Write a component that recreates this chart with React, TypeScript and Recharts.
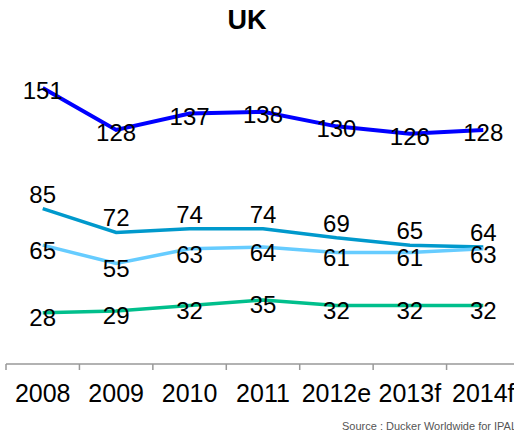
import { LineChart, Line, XAxis, YAxis, LabelList } from 'recharts';

const years = ['2008', '2009', '2010', '2011', '2012e', '2013f', '2014f'];
const seriesA = [151, 128, 137, 138, 130, 126, 128];
const seriesB = [85, 72, 74, 74, 69, 65, 64];
const seriesC = [65, 55, 63, 64, 61, 61, 63];
const seriesD = [28, 29, 32, 35, 32, 32, 32];

const FONT = '"Liberation Sans", Arial, sans-serif';

const data = years.map((year, i) => ({
  year,
  a: seriesA[i],
  b: seriesB[i],
  c: seriesC[i],
  d: seriesD[i],
}));

const BAND = 514 / years.length;

function makeLabel(dy: number) {
  return (props: any) => {
    const { x, y, value } = props;
    return (
      <text x={x} y={y + dy} textAnchor="middle" fontSize={24} fontFamily={FONT} fill="#000">
        {value}
      </text>
    );
  };
}

function YearTick(props: any) {
  const { x, y, payload } = props;
  return (
    <g>
      <line x1={x - BAND / 2} x2={x - BAND / 2} y1={y - 8} y2={y - 2} stroke="#999" strokeWidth={1.5} />
      <text x={x} y={y + 30} textAnchor="middle" fontSize={25} fontFamily={FONT} fill="#000">
        {payload.value}
      </text>
    </g>
  );
}

export default function App() {
  return (
    <div style={{ position: 'absolute', left: 0, top: 0, width: 514, height: 436, overflow: 'hidden', background: '#fff' }}>
      <div
        style={{
          position: 'absolute',
          left: 0,
          width: 494,
          top: 5,
          textAlign: 'center',
          fontFamily: FONT,
          fontWeight: 'bold',
          fontSize: 27,
        }}
      >
        UK
      </div>
      <LineChart width={520} height={436} data={data} margin={{ top: 71.5, right: 0, bottom: 32, left: 6 }}>
        <XAxis
          dataKey="year"
          axisLine={{ stroke: '#999', strokeWidth: 1.5 }}
          tickLine={false}
          tick={<YearTick />}
          height={40}
          interval={0}
          padding={{ left: BAND / 2, right: BAND / 2 }}
        />
        <YAxis hide domain={[0, 160]} />
        <Line dataKey="a" stroke="#0000ff" strokeWidth={4} dot={false} isAnimationActive={false}>
          <LabelList dataKey="a" content={makeLabel(11)} />
        </Line>
        <Line dataKey="b" stroke="#0099cc" strokeWidth={3.5} dot={false} isAnimationActive={false}>
          <LabelList dataKey="b" content={makeLabel(-6)} />
        </Line>
        <Line dataKey="c" stroke="#66ccff" strokeWidth={3.5} dot={false} isAnimationActive={false}>
          <LabelList dataKey="c" content={makeLabel(14)} />
        </Line>
        <Line dataKey="d" stroke="#00bf8c" strokeWidth={3.5} dot={false} isAnimationActive={false}>
          <LabelList dataKey="d" content={makeLabel(13)} />
        </Line>
      </LineChart>
      <div
        style={{
          position: 'absolute',
          left: 342,
          top: 420,
          whiteSpace: 'nowrap',
          fontFamily: FONT,
          fontSize: 11,
          color: '#555',
        }}
      >
        Source : Ducker Worldwide for IPAL
      </div>
    </div>
  );
}
